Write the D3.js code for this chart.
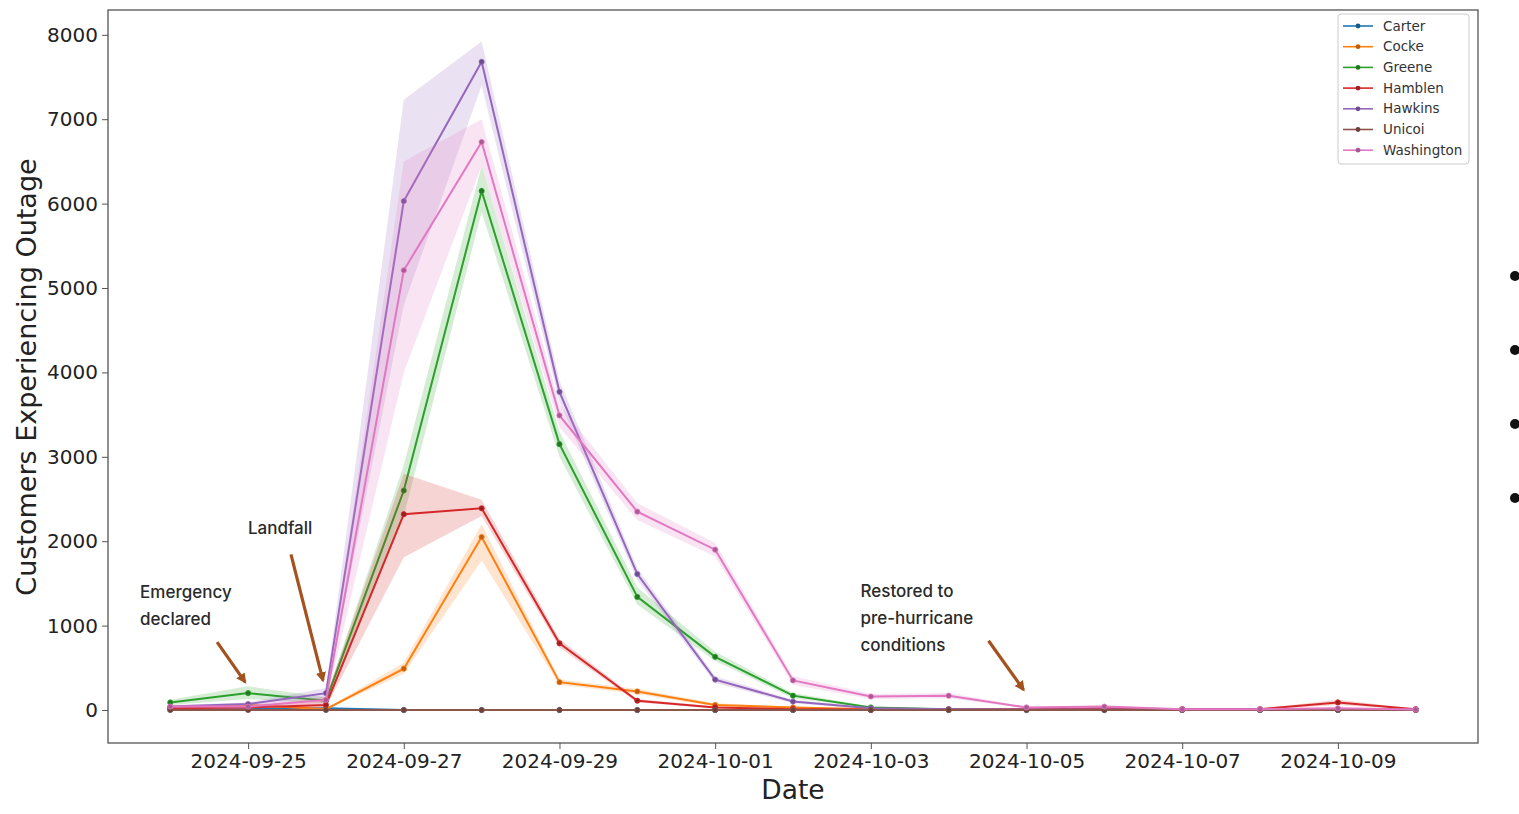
<!DOCTYPE html>
<html>
<head>
<meta charset="utf-8">
<script src="https://cdn.jsdelivr.net/npm/d3@7"></script>
<style>
  body { margin: 0; background: #fff; }
  svg { display: block; }
</style>
</head>
<body>
<svg id="chart"></svg>
<script>
// daily outage counts per county (mean with confidence band)
const dates = ['2024-09-24', '2024-09-25', '2024-09-26', '2024-09-27', '2024-09-28', '2024-09-29',
    '2024-09-30', '2024-10-01', '2024-10-02', '2024-10-03', '2024-10-04', '2024-10-05',
    '2024-10-06', '2024-10-07', '2024-10-08', '2024-10-09', '2024-10-10'];

const counties = ['Carter', 'Cocke', 'Greene', 'Hamblen', 'Hawkins', 'Unicoi', 'Washington'];
const colors = ['#1f77b4', '#ff7f0e', '#2ca02c', '#d62728', '#9467bd', '#8c564b', '#e377c2'];

const carter = [5, 10, 20, 0, 0, 0, 0, 0, 0, 0, 0, 0, 0, 0, 0, 0, 0];
const carterLo = [0, 5, 10, 0, 0, 0, 0, 0, 0, 0, 0, 0, 0, 0, 0, 0, 0];
const carterHi = [10, 15, 30, 0, 0, 0, 0, 0, 0, 0, 0, 0, 0, 0, 0, 0, 0];

const cocke = [20, 60, 10, 490, 2050, 330, 220, 60, 30, 10, 5, 5, 5, 5, 5, 5, 5];
const cockeLo = [10, 40, 5, 430, 1770, 300, 190, 40, 20, 5, 0, 0, 0, 0, 0, 0, 0];
const cockeHi = [30, 80, 20, 560, 2200, 360, 250, 80, 40, 15, 10, 10, 10, 10, 10, 10, 10];

const greene = [90, 200, 110, 2600, 6150, 3150, 1340, 630, 170, 30, 10, 5, 5, 5, 5, 5, 5];
const greeneLo = [60, 130, 80, 2300, 5900, 3000, 1250, 580, 140, 20, 5, 0, 0, 0, 0, 0, 0];
const greeneHi = [120, 280, 150, 2900, 6450, 3300, 1450, 690, 200, 40, 15, 10, 10, 10, 10, 10, 10];

const hamblen = [20, 30, 60, 2320, 2390, 790, 110, 30, 10, 5, 5, 10, 20, 10, 10, 90, 10];
const hamblenLo = [10, 20, 30, 1810, 2300, 740, 90, 20, 5, 0, 0, 5, 10, 5, 5, 60, 5];
const hamblenHi = [30, 40, 150, 2800, 2490, 840, 130, 40, 15, 10, 10, 15, 30, 15, 15, 120, 15];

const hawkins = [40, 70, 200, 6030, 7680, 3770, 1610, 360, 100, 20, 10, 5, 5, 5, 5, 5, 5];
const hawkinsLo = [20, 50, 150, 4800, 7400, 3650, 1540, 320, 80, 10, 5, 0, 0, 0, 0, 0, 0];
const hawkinsHi = [60, 90, 260, 7230, 7920, 3900, 1680, 400, 120, 30, 15, 10, 10, 10, 10, 10, 10];

const unicoi = [0, 0, 0, 0, 0, 0, 0, 0, 0, 0, 0, 0, 0, 0, 0, 0, 0];

const washington = [40, 40, 120, 5210, 6730, 3490, 2350, 1900, 350, 160, 170, 30, 40, 10, 10, 20, 5];
const washingtonLo = [20, 20, 80, 4000, 6450, 3350, 2250, 1820, 300, 130, 140, 20, 30, 5, 5, 10, 0];
const washingtonHi = [60, 60, 160, 6500, 7000, 3620, 2450, 1980, 400, 190, 200, 40, 50, 15, 15, 30, 10];

const xTickDates = ['2024-09-25', '2024-09-27', '2024-09-29', '2024-10-01', '2024-10-03',
    '2024-10-05', '2024-10-07', '2024-10-09'];
const yTicks = [0, 1000, 2000, 3000, 4000, 5000, 6000, 7000, 8000];

// annotation text + where the arrow points (date, value)
const notes = [
    { lines: ['Emergency', 'declared'], date: '2024-09-25', value: 330 },
    { lines: ['Landfall'], date: '2024-09-26', value: 350 },
    { lines: ['Restored to', 'pre-hurricane', 'conditions'], date: '2024-10-05', value: 240 }
];

const series = [
    { mean: carter, lo: carterLo, hi: carterHi },
    { mean: cocke, lo: cockeLo, hi: cockeHi },
    { mean: greene, lo: greeneLo, hi: greeneHi },
    { mean: hamblen, lo: hamblenLo, hi: hamblenHi },
    { mean: hawkins, lo: hawkinsLo, hi: hawkinsHi },
    { mean: unicoi, lo: unicoi, hi: unicoi },
    { mean: washington, lo: washingtonLo, hi: washingtonHi }
];

let width = 1519,
    height = 814;

let margin = { left: 108, right: 41, top: 10, bottom: 71 };

let parse = d3.timeParse('%Y-%m-%d');
let day = 24 * 3600 * 1000;

let svg = d3.select('#chart')
    .attr('width', width)
    .attr('height', height);

let x = d3.scaleTime()
    .domain([new Date(+parse(dates[0]) - 0.8 * day), new Date(+parse(dates[dates.length - 1]) + 0.8 * day)])
    .range([margin.left, width - margin.right]);

let y = d3.scaleLinear()
    .domain([-391, 8294])
    .range([height - margin.bottom, margin.top]);

// bands, lines, markers per county
let plot = svg.append('g');
series.forEach((s, i) => {
    let rows = dates.map((d, j) => ({ date: parse(d), v: s.mean[j], lo: s.lo[j], hi: s.hi[j] }));
    let g = plot.append('g');
    g.append('path')
        .datum(rows)
        .attr('fill', colors[i])
        .attr('fill-opacity', 0.2)
        .attr('d', d3.area().x(d => x(d.date)).y0(d => y(d.lo)).y1(d => y(d.hi)));
    g.append('path')
        .datum(rows)
        .attr('fill', 'none')
        .attr('stroke', colors[i])
        .attr('stroke-width', 2)
        .attr('d', d3.line().x(d => x(d.date)).y(d => y(d.v)));
    g.selectAll('circle')
        .data(rows)
        .enter()
        .append('circle')
        .attr('cx', d => x(d.date))
        .attr('cy', d => y(d.v))
        .attr('r', 2.6)
        .attr('fill', d3.color(colors[i]).darker(0.8))
        .attr('stroke', colors[i])
        .attr('stroke-width', 0.8);
});

// frame
svg.append('rect')
    .attr('x', margin.left)
    .attr('y', margin.top)
    .attr('width', width - margin.left - margin.right)
    .attr('height', height - margin.top - margin.bottom)
    .attr('fill', 'none')
    .attr('stroke', '#555')
    .attr('stroke-width', 1.3);

// x axis
let xAxis = d3.axisBottom(x)
    .tickValues(xTickDates.map(parse))
    .tickFormat(d3.timeFormat('%Y-%m-%d'))
    .tickSize(6)
    .tickPadding(5);

let xg = svg.append('g')
    .attr('transform', `translate(0, ${height - margin.bottom})`)
    .call(xAxis);

// y axis
let yAxis = d3.axisLeft(y)
    .tickValues(yTicks)
    .tickFormat(d3.format('d'))
    .tickSize(6)
    .tickPadding(4);

let yg = svg.append('g')
    .attr('transform', `translate(${margin.left}, 0)`)
    .call(yAxis);

[xg, yg].forEach(g => {
    g.select('.domain').remove();
    g.selectAll('.tick line').attr('stroke', '#555');
    g.selectAll('.tick text')
        .attr('fill', '#222')
        .style('font-family', 'DejaVu Sans')
        .style('font-size', '20px');
});

// axis titles
svg.append('text')
    .attr('x', 793)
    .attr('y', 799)
    .attr('text-anchor', 'middle')
    .attr('fill', '#222')
    .style('font-family', 'DejaVu Sans')
    .style('font-size', '26.5px')
    .text('Date');

svg.append('text')
    .attr('transform', 'translate(36, 377) rotate(-90)')
    .attr('text-anchor', 'middle')
    .attr('fill', '#222')
    .style('font-family', 'DejaVu Sans')
    .style('font-size', '27px')
    .text('Customers Experiencing Outage');

// legend
let legend = svg.append('g').attr('transform', 'translate(1338, 14)');
legend.append('rect')
    .attr('width', 131)
    .attr('height', 150)
    .attr('rx', 3)
    .attr('fill', '#fff')
    .attr('stroke', '#ccc');

counties.forEach((c, i) => {
    let ly = 12 + i * 20.7;
    legend.append('line')
        .attr('x1', 5).attr('x2', 35)
        .attr('y1', ly).attr('y2', ly)
        .attr('stroke', colors[i])
        .attr('stroke-width', 1.6);
    legend.append('circle')
        .attr('cx', 20).attr('cy', ly)
        .attr('r', 2.4)
        .attr('fill', d3.color(colors[i]).darker(0.8));
    legend.append('text')
        .attr('x', 45)
        .attr('y', ly + 4.5)
        .attr('fill', '#333')
        .style('font-family', 'DejaVu Sans')
        .style('font-size', '13.5px')
        .text(c);
});

// annotations
svg.append('defs').append('marker')
    .attr('id', 'arrow')
    .attr('viewBox', '0 0 10 10')
    .attr('refX', 8)
    .attr('refY', 5)
    .attr('markerWidth', 3.2)
    .attr('markerHeight', 3.2)
    .attr('orient', 'auto')
    .append('path')
    .attr('d', 'M0,0 L10,5 L0,10 z')
    .attr('fill', '#a4521f');

// text anchor and tail offsets relative to arrow tip
let noteLayout = [
    { tx: -105, ty: -84, ax: -28, ay: -40 },
    { tx: -75, ty: -146, ax: -32, ay: -126 },
    { tx: -163, ty: -93, ax: -35, ay: -49 }
];

notes.forEach((n, i) => {
    let px = x(parse(n.date)) - 3,
        py = y(n.value);
    let l = noteLayout[i];
    svg.append('line')
        .attr('x1', px + l.ax).attr('y1', py + l.ay)
        .attr('x2', px).attr('y2', py)
        .attr('stroke', '#a4521f')
        .attr('stroke-width', 3.2)
        .attr('marker-end', 'url(#arrow)');
    let t = svg.append('text')
        .attr('x', px + l.tx)
        .attr('y', py + l.ty)
        .attr('fill', '#2a2a2a')
        .style('font-family', 'Inter')
        .style('font-weight', 500)
        .style('font-size', '17px');
    n.lines.forEach((s, k) => {
        t.append('tspan')
            .attr('x', px + l.tx)
            .attr('dy', k === 0 ? 0 : 27)
            .text(s);
    });
});

// slide bullets on the right edge
svg.selectAll('.bullet')
    .data([276, 350, 424, 498])
    .enter()
    .append('circle')
    .attr('class', 'bullet')
    .attr('cx', 1515)
    .attr('cy', d => d)
    .attr('r', 5)
    .attr('fill', '#111');
</script>
</body>
</html>
